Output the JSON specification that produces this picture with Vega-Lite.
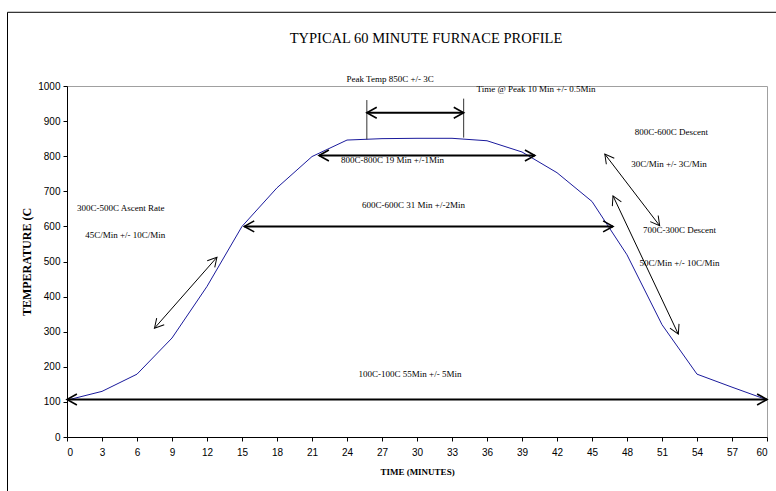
{
  "$schema": "https://vega.github.io/schema/vega-lite/v6.json",
  "width": 700,
  "height": 351,
  "autosize": {"type": "none"},
  "padding": {"left": 67, "top": 86, "right": 9, "bottom": 54},
  "background": "white",
  "title": {
    "text": "TYPICAL 60 MINUTE FURNACE PROFILE",
    "font": "Liberation Serif",
    "fontSize": 14.5,
    "fontWeight": "normal",
    "color": "black",
    "frame": "group",
    "anchor": "middle",
    "offset": -46,
    "baseline": "alphabetic",
    "dx": 9
  },
  "config": {
    "view": {"stroke": "#a0a0a0"},
    "axis": {
      "grid": false,
      "domainColor": "black",
      "tickColor": "black",
      "tickSize": 4,
      "tickCount": 30,
      "labelOverlap": false,
      "labelFont": "Liberation Sans",
      "labelFontSize": 10,
      "labelColor": "black",
      "titleFont": "Liberation Serif",
      "titleFontSize": 10,
      "titleFontWeight": "bold",
      "titleColor": "black"
    }
  },
  "datasets": {
    "profile": [
      {"t": 0, "temp": 105}, {"t": 3, "temp": 130}, {"t": 6, "temp": 179},
      {"t": 9, "temp": 282}, {"t": 12, "temp": 429}, {"t": 15, "temp": 600},
      {"t": 18, "temp": 710}, {"t": 21, "temp": 799}, {"t": 24, "temp": 846},
      {"t": 27, "temp": 850}, {"t": 30, "temp": 851}, {"t": 33, "temp": 851},
      {"t": 36, "temp": 844}, {"t": 39, "temp": 812}, {"t": 42, "temp": 753},
      {"t": 45, "temp": 671}, {"t": 48, "temp": 519}, {"t": 51, "temp": 320},
      {"t": 54, "temp": 179}, {"t": 57, "temp": 142}, {"t": 60, "temp": 106}
    ],
    "spans": [
      {"name": "100C", "xa": 0, "xb": 60, "y": 107},
      {"name": "600C", "xa": 15.2, "xb": 46.8, "y": 600},
      {"name": "800C", "xa": 21.6, "xb": 40.1, "y": 802},
      {"name": "peak", "xa": 25.7, "xb": 34.0, "y": 924}
    ],
    "ticksPeak": [
      {"x": 25.7, "ya": 848, "yb": 960},
      {"x": 34.0, "ya": 853, "yb": 964}
    ],
    "slopes": [
      {"name": "ascent", "xa": 7.5, "ya": 310, "xb": 12.85, "yb": 512},
      {"name": "descent1", "xa": 46.1, "ya": 806, "xb": 50.8, "yb": 602},
      {"name": "descent2", "xa": 46.8, "ya": 687, "xb": 52.4, "yb": 293}
    ],
    "notes": [
      {"label": "Peak Temp 850C +/- 3C", "x": 27.7, "y": 1020},
      {"label": "Time @ Peak 10 Min +/- 0.5Min", "x": 40.2, "y": 991},
      {"label": "800C-800C 19 Min +/-1Min", "x": 27.9, "y": 789},
      {"label": "600C-600C 31 Min +/-2Min", "x": 29.7, "y": 661},
      {"label": "100C-100C 55Min +/- 5Min", "x": 29.4, "y": 180},
      {"label": "300C-500C Ascent Rate", "x": 4.6, "y": 652},
      {"label": "45C/Min   +/- 10C/Min", "x": 5.0, "y": 575},
      {"label": "800C-600C Descent", "x": 51.8, "y": 869},
      {"label": "30C/Min  +/- 3C/Min", "x": 51.6, "y": 777},
      {"label": "700C-300C Descent", "x": 52.5, "y": 590},
      {"label": "50C/Min +/- 10C/Min", "x": 52.5, "y": 495}
    ]
  },
  "layer": [
    {
      "data": {"name": "profile"},
      "mark": {"type": "line", "color": "#1a1a9c", "strokeWidth": 1, "clip": false},
      "encoding": {
        "x": {
          "field": "t", "type": "quantitative",
          "scale": {"domain": [0, 60], "nice": false, "zero": false},
          "axis": {"values": [0,3,6,9,12,15,18,21,24,27,30,33,36,39,42,45,48,51,54,57,60], "tickCount": 30, "format": "d", "labelPadding": 6, "titlePadding": 10, "titleFontSize": 9, "labelOverlap": false},
          "title": "TIME (MINUTES)"
        },
        "y": {
          "field": "temp", "type": "quantitative",
          "scale": {"domain": [0, 1000], "nice": false, "zero": false},
          "axis": {"values": [0,100,200,300,400,500,600,700,800,900,1000], "tickCount": 30, "format": "d", "labelPadding": 3, "titlePadding": 4, "titleFontSize": 12, "labelOverlap": false},
          "title": "TEMPERATURE (C"
        }
      }
    },
    {
      "data": {"values": [{"frame": "chart area"}]},
      "mark": {"type": "rect", "fill": "transparent", "stroke": "black", "strokeWidth": 1, "clip": false},
      "encoding": {
        "x": {"datum": -5.1, "type": "quantitative", "title": "TIME (MINUTES)"},
        "x2": {"datum": 80},
        "y": {"datum": 1210, "type": "quantitative", "title": "TEMPERATURE (C"},
        "y2": {"datum": -400}
      }
    },
    {
      "data": {"name": "ticksPeak"},
      "mark": {"type": "rule", "color": "#333333", "strokeWidth": 1},
      "encoding": {
        "x": {"field": "x", "type": "quantitative", "title": "TIME (MINUTES)"},
        "y": {"field": "ya", "type": "quantitative", "title": "TEMPERATURE (C"},
        "y2": {"field": "yb"}
      }
    },
    {
      "data": {"name": "spans"},
      "mark": {"type": "rule", "color": "black", "strokeWidth": 2, "clip": false},
      "encoding": {
        "x": {"field": "xa", "type": "quantitative", "title": "TIME (MINUTES)"},
        "x2": {"field": "xb"},
        "y": {"field": "y", "type": "quantitative", "title": "TEMPERATURE (C"}
      }
    },
    {
      "data": {"name": "spans"},
      "mark": {"type": "point", "shape": "M1.8,-1L0,0L1.8,1", "size": 121, "filled": false, "stroke": "black", "strokeWidth": 1.6, "opacity": 1, "clip": false},
      "encoding": {
        "x": {"field": "xa", "type": "quantitative", "title": "TIME (MINUTES)"},
        "y": {"field": "y", "type": "quantitative", "title": "TEMPERATURE (C"}
      }
    },
    {
      "data": {"name": "spans"},
      "mark": {"type": "point", "shape": "M-1.8,-1L0,0L-1.8,1", "size": 121, "filled": false, "stroke": "black", "strokeWidth": 1.6, "opacity": 1, "clip": false},
      "encoding": {
        "x": {"field": "xb", "type": "quantitative", "title": "TIME (MINUTES)"},
        "y": {"field": "y", "type": "quantitative", "title": "TEMPERATURE (C"}
      }
    },
    {
      "data": {"name": "slopes"},
      "mark": {"type": "rule", "color": "black", "strokeWidth": 1},
      "encoding": {
        "x": {"field": "xa", "type": "quantitative", "title": "TIME (MINUTES)"},
        "x2": {"field": "xb"},
        "y": {"field": "ya", "type": "quantitative", "title": "TEMPERATURE (C"},
        "y2": {"field": "yb"}
      }
    },
    {
      "data": {"name": "slopes"},
      "transform": [{"filter": "datum.name === 'ascent'"}],
      "layer": [
        {
          "mark": {"type": "point", "shape": "M-1.8,-1L0,0L-1.8,1", "size": 100, "filled": false, "stroke": "black", "strokeWidth": 1, "opacity": 1, "angle": 311.3},
          "encoding": {
            "x": {"field": "xb", "type": "quantitative", "title": "TIME (MINUTES)"},
            "y": {"field": "yb", "type": "quantitative", "title": "TEMPERATURE (C"}
          }
        },
        {
          "mark": {"type": "point", "shape": "M-1.8,-1L0,0L-1.8,1", "size": 100, "filled": false, "stroke": "black", "strokeWidth": 1, "opacity": 1, "angle": 131.3},
          "encoding": {
            "x": {"field": "xa", "type": "quantitative", "title": "TIME (MINUTES)"},
            "y": {"field": "ya", "type": "quantitative", "title": "TEMPERATURE (C"}
          }
        }
      ]
    },
    {
      "data": {"name": "slopes"},
      "transform": [{"filter": "datum.name === 'descent1'"}],
      "layer": [
        {
          "mark": {"type": "point", "shape": "M-1.8,-1L0,0L-1.8,1", "size": 100, "filled": false, "stroke": "black", "strokeWidth": 1, "opacity": 1, "angle": 52.6},
          "encoding": {
            "x": {"field": "xb", "type": "quantitative", "title": "TIME (MINUTES)"},
            "y": {"field": "yb", "type": "quantitative", "title": "TEMPERATURE (C"}
          }
        },
        {
          "mark": {"type": "point", "shape": "M-1.8,-1L0,0L-1.8,1", "size": 100, "filled": false, "stroke": "black", "strokeWidth": 1, "opacity": 1, "angle": 232.6},
          "encoding": {
            "x": {"field": "xa", "type": "quantitative", "title": "TIME (MINUTES)"},
            "y": {"field": "ya", "type": "quantitative", "title": "TEMPERATURE (C"}
          }
        }
      ]
    },
    {
      "data": {"name": "slopes"},
      "transform": [{"filter": "datum.name === 'descent2'"}],
      "layer": [
        {
          "mark": {"type": "point", "shape": "M-1.8,-1L0,0L-1.8,1", "size": 100, "filled": false, "stroke": "black", "strokeWidth": 1, "opacity": 1, "angle": 64.7},
          "encoding": {
            "x": {"field": "xb", "type": "quantitative", "title": "TIME (MINUTES)"},
            "y": {"field": "yb", "type": "quantitative", "title": "TEMPERATURE (C"}
          }
        },
        {
          "mark": {"type": "point", "shape": "M-1.8,-1L0,0L-1.8,1", "size": 100, "filled": false, "stroke": "black", "strokeWidth": 1, "opacity": 1, "angle": 244.7},
          "encoding": {
            "x": {"field": "xa", "type": "quantitative", "title": "TIME (MINUTES)"},
            "y": {"field": "ya", "type": "quantitative", "title": "TEMPERATURE (C"}
          }
        }
      ]
    },
    {
      "data": {"name": "notes"},
      "mark": {"type": "text", "font": "Liberation Serif", "fontSize": 9, "color": "black", "align": "center", "baseline": "middle", "clip": false},
      "encoding": {
        "x": {"field": "x", "type": "quantitative", "title": "TIME (MINUTES)"},
        "y": {"field": "y", "type": "quantitative", "title": "TEMPERATURE (C"},
        "text": {"field": "label"}
      }
    }
  ]
}
